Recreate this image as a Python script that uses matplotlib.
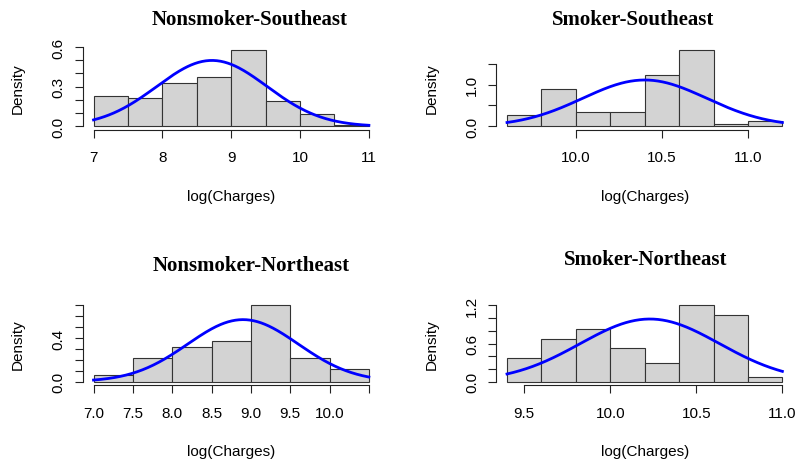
"""Density histograms of log(charges) by smoker status and region, R base-graphics look."""

import numpy as np
import matplotlib.pyplot as plt

W, H = 798, 464

# ── Data ─────────────────────────────────────────────────────────────────────
titles = ["Nonsmoker-Southeast", "Smoker-Southeast",
          "Nonsmoker-Northeast", "Smoker-Northeast"]

edges_ns_se = [7.0, 7.5, 8.0, 8.5, 9.0, 9.5, 10.0, 10.5, 11.0]
dens_ns_se  = [0.228, 0.215, 0.327, 0.372, 0.580, 0.190, 0.091, 0.010]

edges_s_se = [9.6, 9.8, 10.0, 10.2, 10.4, 10.6, 10.8, 11.0, 11.2]
dens_s_se  = [0.280, 0.888, 0.336, 0.336, 1.232, 1.832, 0.056, 0.120]

edges_ns_ne = [7.0, 7.5, 8.0, 8.5, 9.0, 9.5, 10.0, 10.5]
dens_ns_ne  = [0.064, 0.214, 0.315, 0.369, 0.699, 0.214, 0.113]

edges_s_ne = [9.4, 9.6, 9.8, 10.0, 10.2, 10.4, 10.6, 10.8, 11.0]
dens_s_ne  = [0.372, 0.671, 0.833, 0.524, 0.293, 1.200, 1.053, 0.073]

# fitted normal (mean, sd) of log(charges) per group
norm_mean = [8.72, 10.40, 8.90, 10.23]
norm_sd   = [0.80, 0.36, 0.702, 0.405]

xticks = [[7, 8, 9, 10, 11], [10.0, 10.5, 11.0],
          [7.0, 7.5, 8.0, 8.5, 9.0, 9.5, 10.0, 10.5], [9.5, 10.0, 10.5, 11.0]]
xticklabels = [["7", "8", "9", "10", "11"], ["10.0", "10.5", "11.0"],
               ["7.0", "7.5", "8.0", "8.5", "9.0", "9.5", "10.0", ""],
               ["9.5", "10.0", "10.5", "11.0"]]
yticks = [[0, 0.1, 0.2, 0.3, 0.4, 0.5, 0.6], [0, 0.5, 1.0, 1.5],
          [0, 0.1, 0.2, 0.3, 0.4, 0.5, 0.6, 0.7],
          [0, 0.2, 0.4, 0.6, 0.8, 1.0, 1.2]]
yticklabels = [["0.0", "", "", "0.3", "", "", "0.6"], ["0.0", "", "1.0", ""],
               ["0.0", "", "", "", "0.4", "", "", ""],
               ["0.0", "", "", "0.6", "", "", "1.2"]]

edges = [edges_ns_se, edges_s_se, edges_ns_ne, edges_s_ne]
dens  = [dens_ns_se, dens_s_se, dens_ns_ne, dens_s_ne]

# ── Layout (pixel boxes of the plot regions) ─────────────────────────────────
col_left = [82.5, 496.0]
row_top  = [47.6, 303.3]
row_bot  = [130.5, 385.7]
panel_w  = 297.4
# title centre x (px) and baseline y (px)
title_pos = [(250, 25), (633, 25), (251, 271), (646, 265)]

SANS  = "Liberation Sans"
SERIF = "Liberation Serif"
FS = 11

fig = plt.figure(figsize=(W / 100, H / 100), dpi=100)
fig.patch.set_facecolor("white")

for i in range(4):
    r, c = divmod(i, 2)
    left = col_left[c] / W
    bottom = 1 - row_bot[r] / H
    height = (row_bot[r] - row_top[r]) / H
    ax = fig.add_axes([left, bottom, panel_w / W, height])

    e = np.array(edges[i])
    d = np.array(dens[i])
    ax.bar(e[:-1], d, width=np.diff(e), align="edge",
           color="#D3D3D3", edgecolor="#333333", linewidth=0.8)

    xs = np.linspace(e[0], e[-1], 300)
    ys = np.exp(-0.5 * ((xs - norm_mean[i]) / norm_sd[i]) ** 2) / (norm_sd[i] * np.sqrt(2 * np.pi))
    ax.plot(xs, ys, color="#0000FF", linewidth=2.0)

    # R style 4% axis expansion
    xr = e[-1] - e[0]
    ax.set_xlim(e[0] - 0.04 * xr, e[-1] + 0.04 * xr)
    ytop = d.max()
    ax.set_ylim(-0.04 * ytop, ytop * 1.04)

    for s in ("top", "right"):
        ax.spines[s].set_visible(False)
    ax.spines["bottom"].set_bounds(xticks[i][0], xticks[i][-1])
    ax.spines["left"].set_bounds(yticks[i][0], yticks[i][-1])
    for s in ("bottom", "left"):
        ax.spines[s].set_linewidth(0.8)
        ax.spines[s].set_color("#222222")

    ax.set_xticks(xticks[i])
    ax.set_xticklabels(xticklabels[i], fontsize=FS, family=SANS)
    ax.set_yticks(yticks[i])
    ax.set_yticklabels(yticklabels[i], fontsize=FS, family=SANS, rotation=90, va="center")
    ax.tick_params(length=6, width=0.8, color="#222222", pad=9)
    ax.tick_params(axis="y", pad=6)

    ax.text(-0.217, 0.5, "Density", transform=ax.transAxes, rotation=90,
            ha="center", va="center", fontsize=FS, family=SANS)
    ax.text(0.5, -0.80, "log(Charges)", transform=ax.transAxes,
            ha="center", va="center", fontsize=FS, family=SANS)

    tx, ty = title_pos[i]
    fig.text(tx / W, 1 - ty / H, titles[i], ha="center", va="baseline",
             fontsize=15, fontweight="bold", family=SERIF)

fig.savefig("out.png", dpi=100, facecolor="white")
